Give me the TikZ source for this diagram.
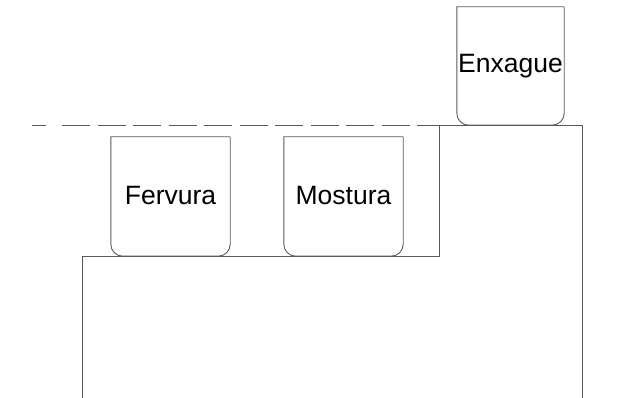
\documentclass[tikz,border=0pt]{standalone}
\usepackage{fontspec}
\setmainfont{Liberation Sans}
\begin{document}
\begin{tikzpicture}[x=1pt,y=-1pt,
  edge/.style={draw=black!65,line width=0.9pt},
  vessel/.style={minimum width=119pt,minimum height=119pt,inner sep=0pt,
    font=\fontsize{26.5}{30}\selectfont},
  rinse/.style={vessel,minimum width=107pt,minimum height=118pt}]
\useasboundingbox (0,0) rectangle (624,398);

% vessels (text nodes, outlines drawn below)
\node[vessel] (ferv) at (170.5,196.5) {\raisebox{3pt}{Fervura}};
\node[vessel] (most) at (343.5,196.5) {\raisebox{3pt}{Mostura}};
\node[rinse]  (enx)  at (510.5,66) {\raisebox{3pt}{Enxague}};

% vessel outlines: square top, rounded bottom corners
\foreach \v in {ferv,most,enx}{
  \draw[edge] (\v.north east) -- (\v.north west) [rounded corners=12pt]
    -- (\v.south west) -- (\v.south east) [sharp corners] -- (\v.north east);
}

% platform steps
\coordinate (stepL) at (82,398);
\coordinate (stepLT) at (82,256);
\coordinate (stepM) at (439,256);
\coordinate (stepMT) at (439,125);
\coordinate (stepR) at (582,125);
\coordinate (stepRB) at (582,398);
\draw[edge] (stepL) -- (stepLT) -- (stepM) -- (stepMT) -- (stepR) -- (stepRB);

% dashed level line
\coordinate (dA) at (32,125);
\coordinate (dB) at (46,125);
\coordinate (dC) at (62,125);
\draw[edge,dash pattern=on 28pt off 7.5pt] (dA) -- (dB) (dC) -- (stepMT);
\end{tikzpicture}
\end{document}
